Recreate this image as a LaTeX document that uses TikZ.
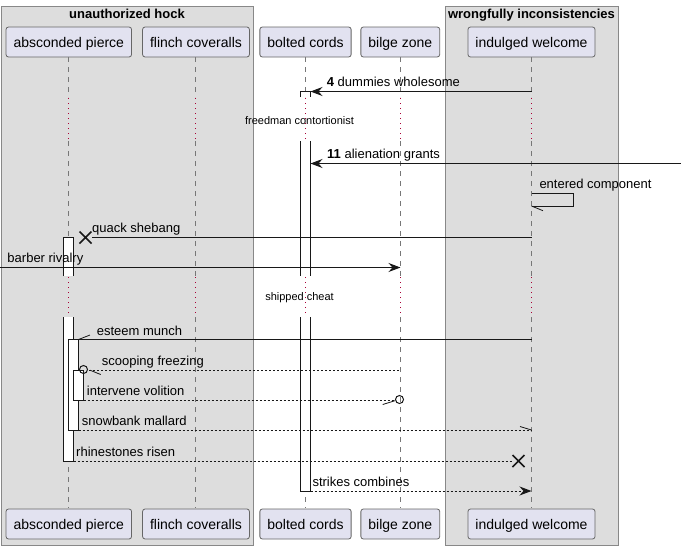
\documentclass[tikz,border=0pt]{standalone}
\usepackage{fontspec}
\setmainfont{Liberation Sans}
\usetikzlibrary{arrows.meta,calc}
\definecolor{boxfill}{HTML}{DDDDDD}
\definecolor{boxline}{HTML}{888888}
\definecolor{partfill}{HTML}{E2E2F0}
\definecolor{partline}{HTML}{666666}
\definecolor{lifecol}{HTML}{777777}
\definecolor{delayred}{HTML}{A80036}
\definecolor{ink}{HTML}{181818}
\begin{document}
\begin{tikzpicture}[x=1pt,y=-1pt,
  grp/.style={draw=boxline, fill=boxfill, line width=1, inner sep=0, outer sep=0, anchor=north west},
  grptitle/.style={font=\fontsize{13}{15}\selectfont\bfseries, anchor=base, inner sep=0},
  part/.style={draw=partline, fill=partfill, rounded corners=2.5, minimum height=30, inner xsep=7.5, inner ysep=0, text height=11.5, text depth=1.5, font=\fontsize{14}{16}\selectfont, line width=0.8},
  life/.style={lifecol, line width=0.8, dash pattern=on 5pt off 5pt},
  delayline/.style={delayred, line width=1, dash pattern=on 1.2pt off 3.8pt},
  delaytxt/.style={font=\fontsize{11}{13}\selectfont, anchor=base, inner sep=0},
  actbar/.style={fill=white, draw=ink, line width=1},
  msg/.style={font=\fontsize{13}{15}\selectfont, anchor=base west, inner sep=0},
  sol/.style={ink, line width=1},
  dsh/.style={ink, line width=1, dash pattern=on 2pt off 2pt},
  arr/.style={-{Stealth[length=12pt,width=9pt,inset=4pt]}},
  half/.style={ink, line width=0.8},
  xmark/.style={ink, line width=1.6}
]
\useasboundingbox (0,0) rectangle (681,550);

% groups
\node[grp, minimum width=252, minimum height=539] (g1) at (1,6) {};
\node[grp, minimum width=173, minimum height=539] (g2) at (445,6) {};
\node[grptitle] (g1t) at (127,18.5) {unauthorized hock};
\node[grptitle] (g2t) at (531.5,18.5) {wrongfully inconsistencies};

% lifelines
\foreach \x in {68.5,195.5,305.5,400.5,531.5}{
  \draw[life] (\x,57) -- (\x,97);
  \draw[delayline] (\x,98) -- (\x,140);
  \draw[life] (\x,141) -- (\x,276);
  \draw[delayline] (\x,277) -- (\x,316);
  \draw[life] (\x,317) -- (\x,508);
}

% participants
\node[part] (pA) at (68.8,42) {absconded pierce};
\node[part] (pB) at (196,42) {flinch coveralls};
\node[part] (pC) at (305.5,42) {bolted cords};
\node[part] (pD) at (400.3,42) {bilge zone};
\node[part] (pE) at (531.5,42) {indulged welcome};
\node[part] (qA) at (68.8,524) {absconded pierce};
\node[part] (qB) at (196,524) {flinch coveralls};
\node[part] (qC) at (305.5,524) {bolted cords};
\node[part] (qD) at (400.3,524) {bilge zone};
\node[part] (qE) at (531.5,524) {indulged welcome};

% delay texts
\node[delaytxt] (d1) at (299.5,124.3) {freedman contortionist};
\node[delaytxt] (d2) at (299.5,300.7) {shipped cheat};

% activation bars: bolted cords
\fill[white] (300.5,91.5) rectangle (310.5,97);
\draw[ink, line width=1] (300.5,97) -- (300.5,91.5) -- (310.5,91.5) -- (310.5,97);
\fill[white] (300.5,141) rectangle (310.5,276);
\draw[ink, line width=1] (300.5,141) -- (300.5,276) (310.5,141) -- (310.5,276);
\fill[white] (300.5,317) rectangle (310.5,491);
\draw[ink, line width=1] (300.5,317) -- (300.5,491) -- (310.5,491) -- (310.5,317);

% activation bars: absconded pierce
\fill[white] (63.5,237.5) rectangle (73.5,276);
\draw[ink, line width=1] (63.5,276) -- (63.5,237.5) -- (73.5,237.5) -- (73.5,276);
\fill[white] (63.5,317) rectangle (73.5,461);
\draw[ink, line width=1] (63.5,317) -- (63.5,461) -- (73.5,461) -- (73.5,317);
\draw[actbar] (68.5,339.5) rectangle (78.5,430);
\draw[actbar] (73.5,370.5) rectangle (83.5,400);

% named message endpoints
\coordinate (m1s) at (531.5,91.5);  \coordinate (m1e) at (310.5,91.5);
\coordinate (m2s) at (681,163.5);   \coordinate (m2e) at (310.5,163.5);
\coordinate (m3a) at (531.5,193.5); \coordinate (m3b) at (573.5,193.5);
\coordinate (m3c) at (573.5,206);   \coordinate (m3d) at (531.5,206);
\coordinate (m4s) at (531.5,237.5); \coordinate (m4e) at (91.5,237.5);
\coordinate (m4x) at (85.5,237.5);
\coordinate (m5s) at (0,267.5);     \coordinate (m5e) at (400.5,267.5);
\coordinate (m6s) at (531.5,339.5); \coordinate (m6e) at (78.5,339.5);
\coordinate (m7s) at (398.5,370);   \coordinate (m7e) at (87.5,370);
\coordinate (m7c) at (83.5,369.5);
\coordinate (m8s) at (83.5,400);    \coordinate (m8e) at (395.5,400);
\coordinate (m8c) at (399.5,399.5);
\coordinate (m9s) at (78.5,430);    \coordinate (m9e) at (531.5,430);
\coordinate (m10s) at (73.5,461);   \coordinate (m10e) at (512.5,461);
\coordinate (m10x) at (518.5,461);
\coordinate (m11s) at (310.5,491);  \coordinate (m11e) at (531.5,491);

% messages
\draw[sol, arr] (m1s) -- (m1e);
\node[msg] (l1) at (326.7,86) {\textbf{4} dummies wholesome};

\draw[sol, arr] (m2s) -- (m2e);
\node[msg] (l2) at (327,158.3) {\textbf{11} alienation grants};

\draw[sol] (m3a) -- (m3b) -- (m3c) -- (m3d);
\draw[half] (m3d) -- ++(11.5,4.7);
\node[msg] (l3) at (539.3,188.5) {entered component};

\draw[sol] (m4s) -- (m4e);
\draw[xmark] ($(m4x)+(-6,-6)$) -- ($(m4x)+(6,6)$) ($(m4x)+(-6,6)$) -- ($(m4x)+(6,-6)$);
\node[msg] (l4) at (92,232) {quack shebang};

\draw[sol, arr] (m5s) -- (m5e);
\node[msg] (l5) at (7.3,262.3) {barber rivalry};

\draw[sol] (m6s) -- (m6e);
\draw[half] (m6e) -- ++(11.5,-4.5);
\node[msg] (l6) at (96.7,335) {esteem munch};

\draw[dsh] (m7s) -- (m7e);
\draw[ink, line width=1] (m7c) circle (4);
\draw[half] (90,370.2) -- (100.7,374.5);
\node[msg] (l7) at (101.7,365.3) {scooping freezing};

\draw[dsh] (m8s) -- (m8e);
\draw[ink, line width=1] (m8c) circle (4);
\draw[half] (395,400.7) -- (382.7,404.5);
\node[msg] (l8) at (86.7,395.5) {intervene volition};

\draw[dsh] (m9s) -- (m9e);
\draw[half] (m9e) -- ++(-11.5,-3.5);
\node[msg] (l9) at (81.7,425.5) {snowbank mallard};

\draw[dsh] (m10s) -- (m10e);
\draw[xmark] ($(m10x)+(-6,-6)$) -- ($(m10x)+(6,6)$) ($(m10x)+(-6,6)$) -- ($(m10x)+(6,-6)$);
\node[msg] (l10) at (76,456) {rhinestones risen};

\draw[dsh, arr] (m11s) -- (m11e);
\node[msg] (l11) at (312.3,486) {strikes combines};
\end{tikzpicture}
\end{document}
